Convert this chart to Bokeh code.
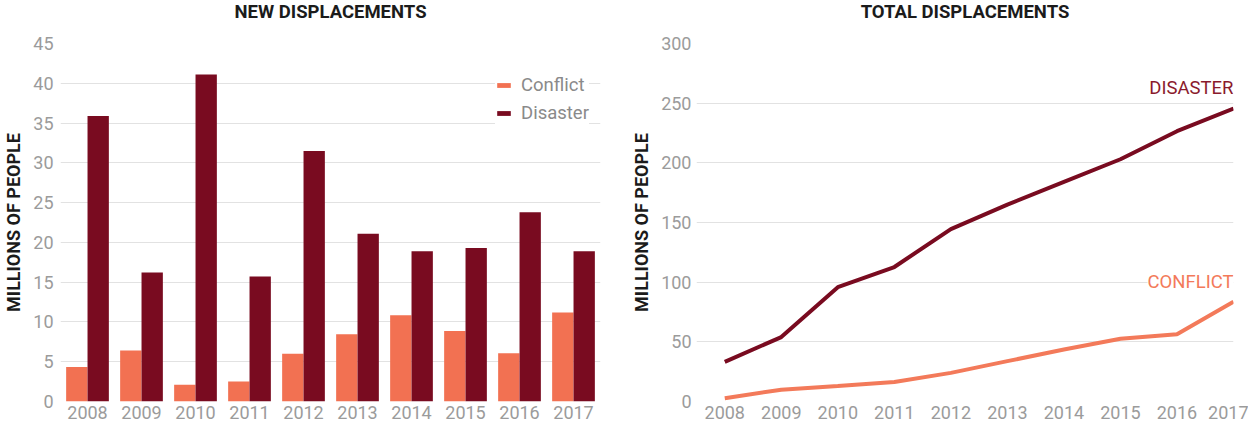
from bokeh.plotting import figure
from bokeh.layouts import row
from bokeh.models import FactorRange, Range1d, FixedTicker, Label, Title
from bokeh.transform import dodge
from bokeh.embed import file_html
from bokeh.resources import INLINE

# ---------------- data ----------------
years = ["2008", "2009", "2010", "2011", "2012", "2013", "2014", "2015", "2016", "2017"]
new_conflict = [4.35, 6.4, 2.1, 2.5, 6.0, 8.45, 10.85, 8.85, 6.05, 11.2]
new_disaster = [35.9, 16.2, 41.1, 15.7, 31.5, 21.1, 18.9, 19.3, 23.8, 18.9]

total_years = [2008, 2009, 2010, 2011, 2012, 2013, 2014, 2015, 2016, 2017]
total_disaster = [33.2, 54.0, 95.8, 112.7, 144.5, 165.0, 184.0, 203.0, 226.5, 245.5]
total_conflict = [2.8, 9.9, 13.0, 16.3, 24.0, 33.8, 43.6, 52.6, 56.3, 83.6]

left_ticks = [0, 5, 10, 15, 20, 25, 30, 35, 40, 45]
right_ticks = [0, 50, 100, 150, 200, 250, 300]

# ---------------- style ----------------
FONT = "Roboto"
CONFLICT = "#f27152"
DISASTER = "#790b20"
DIS_TEXT = "#8a1a2c"
GRID = "#e2e2e2"
TICK = "#9b9b9b"
DARK = "#1b1b1b"


def style(p, title, ylabel_standoff, tick_standoff):
    p.outline_line_color = None
    p.background_fill_color = "white"
    p.border_fill_color = "white"
    for ax in (p.xaxis, p.yaxis):
        ax.axis_line_color = None
        ax.major_tick_line_color = None
        ax.minor_tick_line_color = None
        ax.major_tick_out = 0
        ax.major_tick_in = 0
        ax.minor_tick_out = 0
        ax.minor_tick_in = 0
        ax.major_label_text_font = FONT
        ax.major_label_text_font_size = "18px"
        ax.major_label_text_color = TICK
    p.xaxis.major_label_standoff = 4
    p.yaxis.major_label_standoff = tick_standoff
    p.yaxis.axis_label = "MILLIONS OF PEOPLE"
    p.yaxis.axis_label_text_font = FONT
    p.yaxis.axis_label_text_font_size = "18px"
    p.yaxis.axis_label_text_font_style = "bold"
    p.yaxis.axis_label_text_color = DARK
    p.yaxis.axis_label_standoff = ylabel_standoff
    p.xgrid.grid_line_color = None
    p.ygrid.grid_line_color = GRID
    p.ygrid.grid_line_width = 1
    # blank spacer next to the frame, then the title above it
    p.add_layout(Title(text=" ", standoff=16, text_font_size="1px"), "above")
    p.add_layout(Title(text=title, align="center", vertical_align="top", standoff=0,
                       text_font=FONT, text_font_size="18.5px", text_font_style="bold",
                       text_color=DARK), "above")


# ---------------- left: new displacements ----------------
p1 = figure(width=628, height=421, x_range=FactorRange(*years), y_range=Range1d(0, 45),
            output_backend="svg", toolbar_location=None,
            min_border_left=60, min_border_right=28, min_border_top=43, min_border_bottom=20)
src = dict(year=years, conflict=new_conflict, disaster=new_disaster)
p1.vbar(x=dodge("year", -0.198, range=p1.x_range), top="conflict", width=0.395, source=src,
        color=CONFLICT, line_color=None, legend_label="Conflict")
p1.vbar(x=dodge("year", 0.198, range=p1.x_range), top="disaster", width=0.395, source=src,
        color=DISASTER, line_color=None, legend_label="Disaster")
style(p1, "NEW DISPLACEMENTS", 6, 7)
p1.yaxis.ticker = FixedTicker(ticks=left_ticks)
p1.legend.location = (435, 277)
p1.legend.border_line_color = None
p1.legend.background_fill_color = "white"
p1.legend.background_fill_alpha = 1
p1.legend.glyph_width = 17
p1.legend.glyph_height = 6
p1.legend.label_text_font = FONT
p1.legend.label_text_font_size = "18.5px"
p1.legend.label_text_color = "#8a8a8a"
p1.legend.label_height = 20
p1.legend.spacing = 6
p1.legend.padding = 8
p1.legend.label_standoff = 9

# ---------------- right: total displacements ----------------
p2 = figure(width=620, height=421, x_range=Range1d(2007.5, 2017), y_range=Range1d(0, 300),
            output_backend="svg", toolbar_location=None,
            min_border_left=65, min_border_right=15, min_border_top=43, min_border_bottom=20)
p2.line(total_years, total_disaster, line_width=4, color=DISASTER)
p2.line(total_years, total_conflict, line_width=4, color="#f37a5a")
style(p2, "TOTAL DISPLACEMENTS", 6, 5)
p2.xaxis.ticker = FixedTicker(ticks=total_years)
p2.yaxis.ticker = FixedTicker(ticks=right_ticks)
p2.add_layout(Label(x=2017, y=263, text="DISASTER", text_align="right", text_baseline="middle",
                    text_font=FONT, text_font_size="18.5px", text_color=DIS_TEXT))
p2.add_layout(Label(x=2017, y=100, text="CONFLICT", text_align="right", text_baseline="middle",
                    text_font=FONT, text_font_size="18.5px", text_color="#f37a5a",
                    background_fill_color="white", background_fill_alpha=1))

layout = row(p1, p2, spacing=0)
open("out.html", "w").write(file_html(layout, INLINE))
